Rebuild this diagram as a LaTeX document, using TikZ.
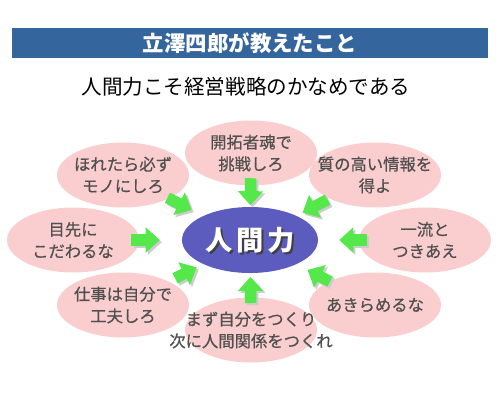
\documentclass[tikz,border=0pt]{standalone}
\usepackage{fontspec}
\setmainfont{Noto Sans CJK JP}
\newfontfamily\bubfont{Noto Sans CJK JP}[FakeBold=0.6]
\usetikzlibrary{shapes.geometric,arrows.meta,calc}

\definecolor{headblue}{RGB}{52,101,156}
\definecolor{bubpink}{RGB}{250,206,206}
\definecolor{coreblue}{RGB}{92,92,190}
\definecolor{arrgreen}{RGB}{85,232,75}
\definecolor{txtgray}{RGB}{80,80,80}

\tikzset{
  headbar/.style={fill=headblue, minimum width=9.54cm, minimum height=0.6cm,
    text=white, font=\bfseries\fontsize{12.2}{14}\selectfont, inner sep=0pt},
  bubble/.style={ellipse, fill=bubpink, minimum width=2.64cm, minimum height=1.3cm, inner sep=0pt},
  btxt/.style={text=txtgray, align=center, font=\bubfont\fontsize{9.3}{12.4}\selectfont, inner sep=0pt},
  core/.style={ellipse, fill=coreblue, minimum width=2.72cm, minimum height=1.32cm, inner sep=0pt},
  coretxt/.style={text=white, font=\bfseries\fontsize{15.5}{18}\selectfont, inner sep=0pt},
  coreshade/.style={coretxt, text=black!75, xshift=1.3pt, yshift=-1.3pt},
  arr/.style={draw=arrgreen, line width=6.5pt, -{Triangle[width=14pt,length=8pt]}},
  arrshadow/.style={arr, draw=black!20, transform canvas={shift={(1.2pt,-1.2pt)}}}
}

\begin{document}
\begin{tikzpicture}[x=0.02cm, y=-0.02cm]
  \useasboundingbox (0,0) rectangle (500,400);

  \node[headbar] (head) at (250,43) {立澤四郎が教えたこと};
  \node[font=\fontsize{11.7}{14}\selectfont] (sub) at (246,87) {人間力こそ経営戦略のかなめである};

  % center
  \node[core, label={[coreshade]center:人\hspace{2pt}間\hspace{2pt}力},
    label={[coretxt]center:人\hspace{2pt}間\hspace{2pt}力}] (core) at (250,240) {};

  % bubbles around
  \node[bubble, label={[btxt]center:{開拓者魂で\\挑戦しろ}}] (kaitaku) at (251,153) {};
  \node[bubble, label={[btxt]center:{ほれたら必ず\\モノにしろ}}] (hore) at (123,175) {};
  \node[bubble, label={[btxt]center:{目先に\\こだわるな}}] (mesaki) at (73,240) {};
  \node[bubble, label={[btxt]center:{仕事は自分で\\工夫しろ}}] (shigoto) at (123,305) {};
  \node[bubble, label={[btxt]center:{まず自分をつくり\\次に人間関係をつくれ}}] (mazu) at (251,330) {};
  \node[bubble, label={[btxt]center:{あきらめるな}}] (akirame) at (375,305) {};
  \node[bubble, label={[btxt]center:{一流と\\つきあえ}}] (ichiryu) at (425,240) {};
  \node[bubble, label={[btxt]center:{質の高い情報を\\得よ}}] (shitsu) at (375,175) {};

  % arrows into the center
  \foreach \n/\p/\q in {kaitaku/0.29/0.60, hore/0.35/0.54, mesaki/0.33/0.49,
      shigoto/0.41/0.58, mazu/0.30/0.59, akirame/0.36/0.54,
      ichiryu/0.33/0.49, shitsu/0.38/0.58} {
    \draw[arrshadow] ($(\n)!\p!(core)$) -- ($(\n)!\q!(core)$);
    \draw[arr] ($(\n)!\p!(core)$) -- ($(\n)!\q!(core)$);
  }
\end{tikzpicture}
\end{document}
